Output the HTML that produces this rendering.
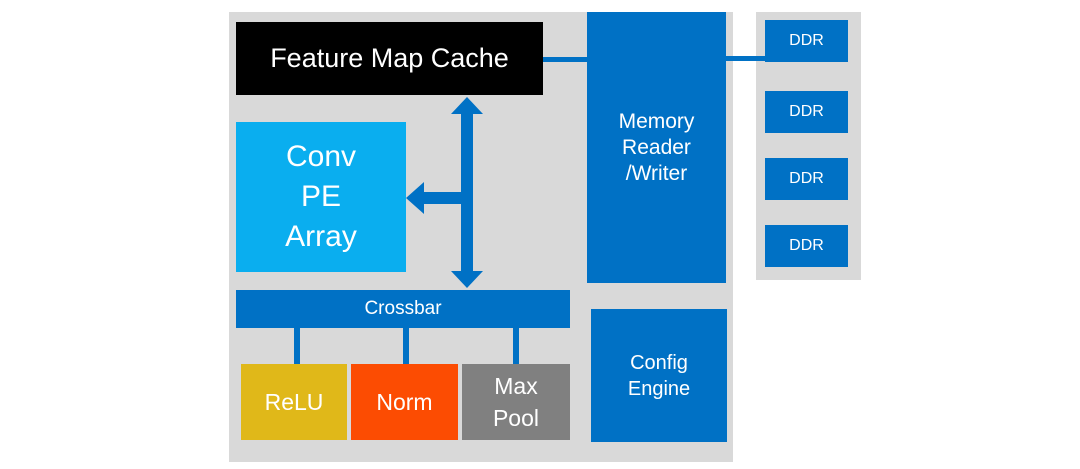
<!DOCTYPE html>
<html><head><meta charset="utf-8"><style>
body{margin:0;width:1080px;height:469px;background:#fff;position:relative;overflow:hidden;font-family:"Liberation Sans",sans-serif;}
div{position:absolute;box-sizing:border-box;}
.b{background:#0071c5;color:#fff;display:flex;align-items:center;justify-content:center;text-align:center;}
</style></head><body>
<div style="left:229px;top:12px;width:504px;height:450px;background:#d9d9d9"></div>
<div style="left:756px;top:12px;width:105px;height:268px;background:#d9d9d9"></div>
<div class="b" style="left:236px;top:22px;width:307px;height:73px;background:#000;font-size:27px">Feature Map Cache</div>
<div style="left:543px;top:57px;width:44px;height:5px;background:#0071c5"></div>
<div style="left:726px;top:56px;width:39px;height:5px;background:#0071c5"></div>
<div class="b" style="left:587px;top:12px;width:139px;height:271px;font-size:21px;line-height:26px;align-items:flex-start;padding-top:97px">Memory<br>Reader<br>/Writer</div>
<div class="b" style="left:765px;top:20px;width:83px;height:42px;font-size:16px">DDR</div>
<div class="b" style="left:765px;top:91px;width:83px;height:42px;font-size:16px">DDR</div>
<div class="b" style="left:765px;top:158px;width:83px;height:42px;font-size:16px">DDR</div>
<div class="b" style="left:765px;top:225px;width:83px;height:42px;font-size:16px">DDR</div>
<div class="b" style="left:236px;top:122px;width:170px;height:150px;background:#0aaeef;font-size:30px;line-height:40px">Conv<br>PE<br>Array</div>
<svg style="position:absolute;left:0;top:0" width="1080" height="469">
<g fill="#0071c5">
<rect x="461" y="112" width="12" height="162"/>
<polygon points="467,97 483,114 451,114"/>
<polygon points="467,288 483,271 451,271"/>
<rect x="420" y="192" width="45" height="12"/>
<polygon points="406,198 424,182 424,214"/>
<rect x="294" y="328" width="6" height="36"/>
<rect x="403" y="328" width="6" height="36"/>
<rect x="513" y="328" width="6" height="36"/>
</g></svg>
<div class="b" style="left:236px;top:290px;width:334px;height:38px;font-size:19px">Crossbar</div>
<div class="b" style="left:241px;top:364px;width:106px;height:76px;background:#e0b819;font-size:23px">ReLU</div>
<div class="b" style="left:351px;top:364px;width:107px;height:76px;background:#fc4c02;font-size:23px">Norm</div>
<div class="b" style="left:462px;top:364px;width:108px;height:76px;background:#808080;font-size:23px;line-height:32px">Max<br>Pool</div>
<div class="b" style="left:591px;top:309px;width:136px;height:133px;font-size:20px;line-height:26px">Config<br>Engine</div>
</body></html>
